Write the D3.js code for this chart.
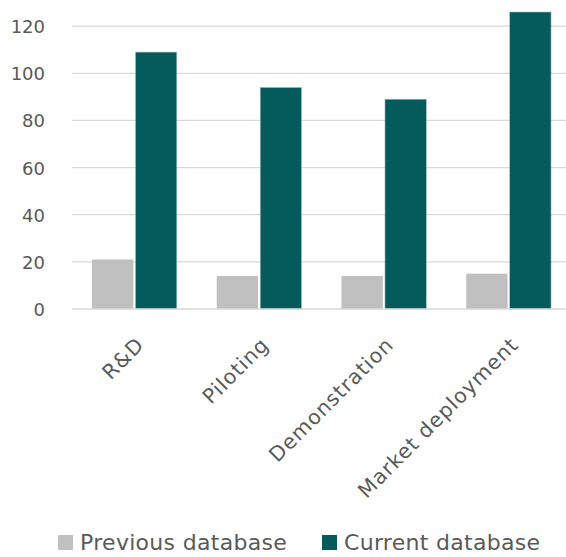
<!DOCTYPE html>
<html>
<head>
<meta charset="utf-8">
<script src="https://cdn.jsdelivr.net/npm/d3@7"></script>
<style>
  html, body { margin: 0; padding: 0; background: #fff; }
  svg { display: block; font-family: "DejaVu Sans", "Open Sans", sans-serif; }
</style>
</head>
<body>
<svg id="chart" width="566" height="557"></svg>
<script>
// Project counts by stage of development
const stages = ["R&D", "Piloting", "Demonstration", "Market deployment"];
const seriesNames = ["Previous database", "Current database"];
const previousDb = [21, 14, 14, 15];
const currentDb = [109, 94, 89, 126];
const yTicks = [0, 20, 40, 60, 80, 100, 120];
const colors = ["#c0c0c0", "#055a5b"];

const svg = d3.select("#chart");
const margin = { left: 72, right: -5, top: 12, bottom: 248 };
const W = 566, H = 557;

const rows = stages.map((s, i) => ({ stage: s, values: [previousDb[i], currentDb[i]] }));

const x = d3.scaleBand().domain(stages).range([margin.left, W - margin.right]).paddingInner(0.32).paddingOuter(0.16);
const xs = d3.scaleBand().domain(seriesNames).range([0, x.bandwidth()]).paddingInner(0.05);
const y = d3.scaleLinear().domain([0, 126]).range([H - margin.bottom, margin.top]);

// gridlines
svg.append("g")
  .selectAll("line")
  .data(yTicks.filter(d => d > 0))
  .join("line")
  .attr("x1", margin.left).attr("x2", W)
  .attr("y1", d => y(d)).attr("y2", d => y(d))
  .attr("stroke", "#d9d9d9").attr("stroke-width", 1.3);

// y axis labels
const yAxis = svg.append("g")
  .attr("transform", `translate(${margin.left - 27},0)`)
  .call(d3.axisLeft(y).tickValues(yTicks).tickSize(0).tickPadding(0));
yAxis.select(".domain").remove();
yAxis.selectAll("text")
  .attr("fill", "#595959").attr("font-size", 18)
  .attr("font-family", "DejaVu Sans, sans-serif").attr("dy", "0.36em");

// bars
const groups = svg.append("g").selectAll("g")
  .data(rows).join("g")
  .attr("transform", d => `translate(${x(d.stage)},0)`);
groups.selectAll("rect")
  .data(d => d.values.map((v, i) => ({ key: seriesNames[i], v, i })))
  .join("rect")
  .attr("x", d => xs(d.key))
  .attr("width", xs.bandwidth())
  .attr("y", d => y(d.v))
  .attr("height", d => y(0) - y(d.v))
  .attr("fill", d => colors[d.i])
  .attr("stroke", d => d.i === 1 ? "#9fc3c3" : "none")
  .attr("stroke-width", 0.6);

// baseline
svg.append("line")
  .attr("x1", margin.left).attr("x2", W)
  .attr("y1", y(0)).attr("y2", y(0))
  .attr("stroke", "#d9d9d9").attr("stroke-width", 1.5);

// category labels, rotated 45 degrees
const xAxis = svg.append("g")
  .attr("transform", `translate(0,${y(0)})`)
  .call(d3.axisBottom(x).tickSize(0).tickPadding(0));
xAxis.select(".domain").remove();
xAxis.selectAll("text")
  .attr("fill", "#595959").attr("font-size", 20.5)
  .attr("font-family", "DejaVu Sans, sans-serif")
  .attr("letter-spacing", 1)
  .attr("text-anchor", "end")
  .attr("dy", 0)
  .attr("transform", "translate(11,37) rotate(-45)");

// legend
const legend = svg.append("g").attr("transform", `translate(58,535)`);
const items = [{ name: seriesNames[0], x: 0 }, { name: seriesNames[1], x: 264 }];
items.forEach((it, i) => {
  const g = legend.append("g").attr("transform", `translate(${it.x},0)`);
  g.append("rect").attr("width", 15).attr("height", 15).attr("fill", colors[i]);
  g.append("text").attr("x", 22).attr("y", 15)
    .attr("font-size", 22).attr("letter-spacing", 0.3)
    .attr("fill", "#595959").text(it.name);
});
</script>
</body>
</html>
